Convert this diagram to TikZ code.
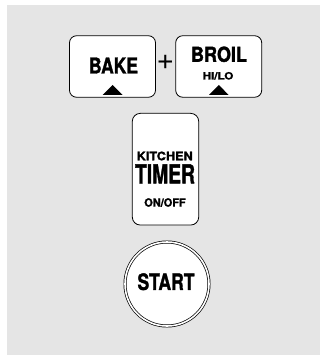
\documentclass[tikz,border=0pt]{standalone}
\usepackage{fontspec}
\setmainfont{TeX Gyre Heros}[BoldFeatures={FakeBold=1.6}]
\usepackage{graphicx}
\newcommand{\keytext}[3]{\resizebox{#1pt}{#2pt}{\bfseries #3}}
\begin{document}
\begin{tikzpicture}[x=1pt, y=-1pt,
  key/.style={draw, line width=0.8pt, rounded corners=7pt, fill=white, inner sep=0},
  lbl/.style={inner sep=0}]
\useasboundingbox (0,0) rectangle (320,355);
\fill[black!10] (7,5) rectangle (320,355);
\node[key, minimum width=86pt, minimum height=61.5pt] (bake) at (112.5,66.5){};
\node[key, minimum width=86pt, minimum height=61.5pt] (broil) at (218.7,66.5){};
\node[lbl] (bakelbl) at (113.5,65.5){\keytext{49}{16}{BAKE}};
\fill (102.7,95) -- (112.7,85) -- (122.7,95) -- cycle;
\node[lbl, font=\fontsize{30}{30}\selectfont] (plus) at (165.5,62){+};
\node[lbl] (broillbl) at (219,54.3){\keytext{56}{15.3}{BROIL}};
\node[lbl] (hilo) at (218,75.8){\keytext{30.6}{7.4}{HI/LO}};
\fill (209,95) -- (218.8,85) -- (228.7,95) -- cycle;
\node[key, rounded corners=8pt, minimum width=66.4pt, minimum height=111.7pt] (timer) at (165.5,169.2){};
\node[lbl] (kitchen) at (164.7,156){\keytext{56}{8.7}{KITCHEN}};
\node[lbl] (timerlbl) at (165,173.8){\keytext{60}{19}{TIMER}};
\node[lbl] (onoff) at (165,202.5){\keytext{41.4}{8.4}{ON/OFF}};
\node[circle, draw, line width=0.7pt, double, double distance=1.6pt, fill=white, minimum size=84pt, inner sep=0] (start) at (167,284){};
\node[lbl] (startlbl) at (166,281.7){\keytext{57}{16.7}{START}};
\end{tikzpicture}
\end{document}
